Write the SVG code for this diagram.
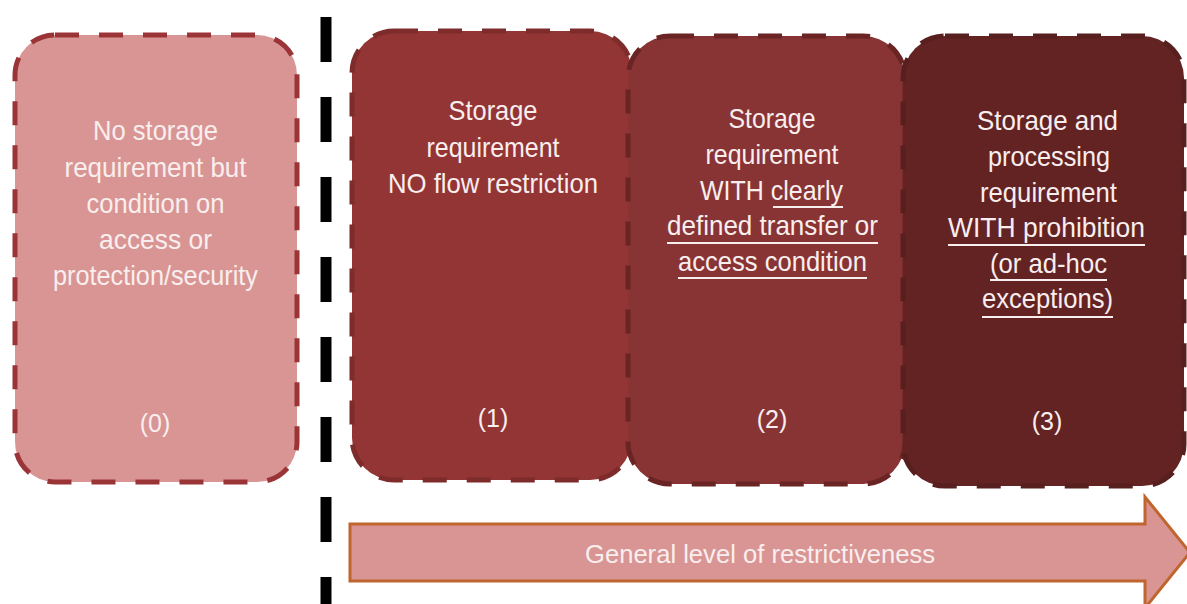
<svg xmlns="http://www.w3.org/2000/svg" width="1187" height="604" viewBox="0 0 1187 604">
  <style>
    .box { stroke-width: 5; stroke-dasharray: 24 20; }
    .t { font-family: "Liberation Sans Narrow", "Liberation Sans", Arial, sans-serif; font-size: 28px; fill: #f8eeee; text-anchor: middle; }
    .n { font-family: "Liberation Sans Narrow", "Liberation Sans", Arial, sans-serif; font-size: 25px; fill: #f8eeee; text-anchor: middle; }
    .ul { stroke: #f8eeee; stroke-width: 2; }
  </style>
  <rect width="1187" height="604" fill="#ffffff"/>

  <g id="divider">
    <line x1="326" y1="17" x2="326" y2="604" stroke="#000000" stroke-width="11" stroke-dasharray="45 35"/>
  </g>

  <g id="node0">
    <rect class="box" x="15" y="35" width="282" height="447" rx="40" fill="#d99594" stroke="#9b3436"/>
    <text class="t" x="155.5" y="140" textLength="125" lengthAdjust="spacingAndGlyphs">No storage</text>
    <text class="t" x="155.5" y="177" textLength="182" lengthAdjust="spacingAndGlyphs">requirement but</text>
    <text class="t" x="155.5" y="213" textLength="138" lengthAdjust="spacingAndGlyphs">condition on</text>
    <text class="t" x="155.5" y="249" textLength="113" lengthAdjust="spacingAndGlyphs">access or</text>
    <text class="t" x="155.5" y="285" textLength="205" lengthAdjust="spacingAndGlyphs">protection/security</text>
    <text class="n" x="155" y="432">(0)</text>
  </g>

  <g id="node1">
    <rect class="box" x="352" y="31" width="280" height="449" rx="42" fill="#933535" stroke="#7e2b2b"/>
    <text class="t" x="493" y="120" textLength="89" lengthAdjust="spacingAndGlyphs">Storage</text>
    <text class="t" x="493" y="157" textLength="133" lengthAdjust="spacingAndGlyphs">requirement</text>
    <text class="t" x="493" y="193" textLength="210" lengthAdjust="spacingAndGlyphs">NO flow restriction</text>
    <text class="n" x="493" y="427">(1)</text>
  </g>

  <g id="node2">
    <rect class="box" x="628" y="36" width="277" height="448" rx="42" fill="#893434" stroke="#6a2424"/>
    <text class="t" x="772" y="128" textLength="87" lengthAdjust="spacingAndGlyphs">Storage</text>
    <text class="t" x="772" y="164" textLength="133" lengthAdjust="spacingAndGlyphs">requirement</text>
    <text class="t" x="771.5" y="200" textLength="143" lengthAdjust="spacingAndGlyphs">WITH clearly</text>
    <line class="ul" x1="773" y1="207" x2="843" y2="207"/>
    <text class="t" x="772.5" y="235" textLength="211" lengthAdjust="spacingAndGlyphs">defined transfer or</text>
    <line class="ul" x1="667" y1="243" x2="878" y2="243"/>
    <text class="t" x="772.5" y="271" textLength="189" lengthAdjust="spacingAndGlyphs">access condition</text>
    <line class="ul" x1="678" y1="278" x2="867" y2="278"/>
    <text class="n" x="772" y="428">(2)</text>
  </g>

  <g id="node3">
    <rect class="box" x="903" y="36" width="281" height="450" rx="42" fill="#632323" stroke="#581f1f"/>
    <text class="t" x="1047.5" y="130" textLength="141" lengthAdjust="spacingAndGlyphs">Storage and</text>
    <text class="t" x="1049" y="166" textLength="122" lengthAdjust="spacingAndGlyphs">processing</text>
    <text class="t" x="1048.5" y="202" textLength="137" lengthAdjust="spacingAndGlyphs">requirement</text>
    <text class="t" x="1046.5" y="237" textLength="197" lengthAdjust="spacingAndGlyphs">WITH prohibition</text>
    <line class="ul" x1="948" y1="245" x2="1145" y2="245"/>
    <text class="t" x="1048.5" y="273" textLength="117" lengthAdjust="spacingAndGlyphs">(or ad-hoc</text>
    <line class="ul" x1="990" y1="280" x2="1107" y2="280"/>
    <text class="t" x="1047.5" y="308" textLength="131" lengthAdjust="spacingAndGlyphs">exceptions)</text>
    <line class="ul" x1="982" y1="317" x2="1113" y2="317"/>
    <text class="n" x="1047" y="430">(3)</text>
  </g>

  <g id="connectors">
    <g id="restrictiveness-arrow">
      <polygon points="350,524 1145,524 1145,497 1190,552.5 1145,608 1145,581 350,581" fill="#d99594" stroke="#c0652e" stroke-width="3" stroke-linejoin="miter"/>
      <text class="t" x="760" y="563" font-size="26" style="font-size:26px" textLength="350" lengthAdjust="spacingAndGlyphs">General level of restrictiveness</text>
    </g>
  </g>
</svg>
